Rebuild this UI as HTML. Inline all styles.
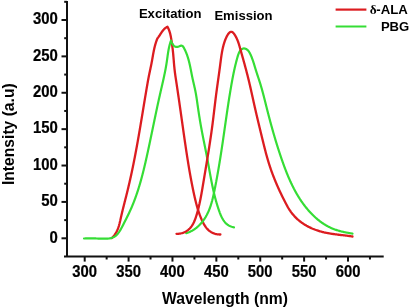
<!DOCTYPE html>
<html><head><meta charset="utf-8"><style>
html,body{margin:0;padding:0;background:#fff;width:410px;height:308px;overflow:hidden}
svg{display:block;will-change:transform}
text{font-family:"Liberation Sans",sans-serif;font-weight:bold;fill:#000}
.tl{font-size:16.3px;stroke:#111;stroke-width:0.25px}
.c{fill:none;stroke-width:2.3;stroke-linejoin:round;stroke-linecap:round}
.r{stroke:#dc1c20}.g{stroke:#35dd35;stroke-width:2.2}
</style></head><body>
<svg width="410" height="308" viewBox="0 0 410 308">
<path d="M67,1 V257.5 M64,256.5 H383.7" fill="none" stroke="#111" stroke-width="2"/>
<line x1="61.5" y1="238.30" x2="67" y2="238.30" stroke="#111" stroke-width="2"/>
<text transform="translate(57.9,242.60) scale(0.915,1)" class="tl" text-anchor="end">0</text>
<line x1="61.5" y1="201.92" x2="67" y2="201.92" stroke="#111" stroke-width="2"/>
<text transform="translate(57.9,206.22) scale(0.915,1)" class="tl" text-anchor="end">50</text>
<line x1="61.5" y1="165.53" x2="67" y2="165.53" stroke="#111" stroke-width="2"/>
<text transform="translate(57.9,169.83) scale(0.915,1)" class="tl" text-anchor="end">100</text>
<line x1="61.5" y1="129.15" x2="67" y2="129.15" stroke="#111" stroke-width="2"/>
<text transform="translate(57.9,133.45) scale(0.915,1)" class="tl" text-anchor="end">150</text>
<line x1="61.5" y1="92.77" x2="67" y2="92.77" stroke="#111" stroke-width="2"/>
<text transform="translate(57.9,97.07) scale(0.915,1)" class="tl" text-anchor="end">200</text>
<line x1="61.5" y1="56.38" x2="67" y2="56.38" stroke="#111" stroke-width="2"/>
<text transform="translate(57.9,60.68) scale(0.915,1)" class="tl" text-anchor="end">250</text>
<line x1="61.5" y1="20.00" x2="67" y2="20.00" stroke="#111" stroke-width="2"/>
<text transform="translate(57.9,24.30) scale(0.915,1)" class="tl" text-anchor="end">300</text>
<line x1="64.2" y1="220.11" x2="67" y2="220.11" stroke="#111" stroke-width="2"/>
<line x1="64.2" y1="183.72" x2="67" y2="183.72" stroke="#111" stroke-width="2"/>
<line x1="64.2" y1="147.34" x2="67" y2="147.34" stroke="#111" stroke-width="2"/>
<line x1="64.2" y1="110.96" x2="67" y2="110.96" stroke="#111" stroke-width="2"/>
<line x1="64.2" y1="74.57" x2="67" y2="74.57" stroke="#111" stroke-width="2"/>
<line x1="64.2" y1="38.19" x2="67" y2="38.19" stroke="#111" stroke-width="2"/>
<line x1="64.2" y1="1.81" x2="67" y2="1.81" stroke="#111" stroke-width="2"/>
<line x1="84.70" y1="256.5" x2="84.70" y2="261.6" stroke="#111" stroke-width="2"/>
<text transform="translate(84.70,277.0) scale(0.91,1)" class="tl" style="font-size:16.3px" text-anchor="middle">300</text>
<line x1="128.59" y1="256.5" x2="128.59" y2="261.6" stroke="#111" stroke-width="2"/>
<text transform="translate(128.59,277.0) scale(0.91,1)" class="tl" style="font-size:16.3px" text-anchor="middle">350</text>
<line x1="172.47" y1="256.5" x2="172.47" y2="261.6" stroke="#111" stroke-width="2"/>
<text transform="translate(172.47,277.0) scale(0.91,1)" class="tl" style="font-size:16.3px" text-anchor="middle">400</text>
<line x1="216.36" y1="256.5" x2="216.36" y2="261.6" stroke="#111" stroke-width="2"/>
<text transform="translate(216.36,277.0) scale(0.91,1)" class="tl" style="font-size:16.3px" text-anchor="middle">450</text>
<line x1="260.24" y1="256.5" x2="260.24" y2="261.6" stroke="#111" stroke-width="2"/>
<text transform="translate(260.24,277.0) scale(0.91,1)" class="tl" style="font-size:16.3px" text-anchor="middle">500</text>
<line x1="304.12" y1="256.5" x2="304.12" y2="261.6" stroke="#111" stroke-width="2"/>
<text transform="translate(304.12,277.0) scale(0.91,1)" class="tl" style="font-size:16.3px" text-anchor="middle">550</text>
<line x1="348.01" y1="256.5" x2="348.01" y2="261.6" stroke="#111" stroke-width="2"/>
<text transform="translate(348.01,277.0) scale(0.91,1)" class="tl" style="font-size:16.3px" text-anchor="middle">600</text>
<line x1="106.64" y1="256.5" x2="106.64" y2="259.5" stroke="#111" stroke-width="2"/>
<line x1="150.53" y1="256.5" x2="150.53" y2="259.5" stroke="#111" stroke-width="2"/>
<line x1="194.41" y1="256.5" x2="194.41" y2="259.5" stroke="#111" stroke-width="2"/>
<line x1="238.30" y1="256.5" x2="238.30" y2="259.5" stroke="#111" stroke-width="2"/>
<line x1="282.18" y1="256.5" x2="282.18" y2="259.5" stroke="#111" stroke-width="2"/>
<line x1="326.07" y1="256.5" x2="326.07" y2="259.5" stroke="#111" stroke-width="2"/>
<line x1="369.95" y1="256.5" x2="369.95" y2="259.5" stroke="#111" stroke-width="2"/>
<path d="M111.60,238.10 L112.16,237.58 L112.69,237.06 L113.20,236.52 L113.68,235.98 L114.14,235.42 L114.57,234.87 L114.99,234.30 L115.38,233.72 L115.75,233.14 L116.10,232.55 L116.44,231.96 L116.75,231.36 L117.05,230.75 L117.33,230.14 L117.60,229.52 L117.86,228.90 L118.10,228.27 L118.33,227.64 L118.54,227.00 L118.75,226.36 L118.95,225.72 L119.13,225.07 L119.31,224.41 L119.49,223.76 L119.65,223.10 L119.81,222.44 L119.97,221.77 L120.12,221.11 L120.28,220.44 L120.42,219.77 L120.57,219.10 L120.72,218.42 L120.87,217.75 L121.02,217.07 L121.17,216.40 L121.33,215.72 L121.48,215.05 L121.64,214.37 L121.80,213.69 L121.96,213.01 L122.12,212.33 L122.29,211.65 L122.45,210.97 L122.62,210.29 L122.78,209.61 L122.95,208.93 L123.12,208.24 L123.29,207.56 L123.46,206.88 L123.63,206.19 L123.81,205.51 L123.98,204.83 L124.15,204.14 L124.33,203.46 L124.50,202.77 L124.67,202.09 L124.85,201.40 L125.02,200.72 L125.20,200.03 L125.37,199.34 L125.55,198.66 L125.72,197.97 L125.89,197.29 L126.07,196.60 L126.24,195.91 L126.41,195.23 L126.58,194.54 L126.76,193.86 L126.93,193.17 L127.10,192.48 L127.26,191.80 L127.43,191.11 L127.60,190.43 L127.77,189.74 L127.93,189.06 L128.10,188.37 L128.26,187.69 L128.42,187.00 L128.58,186.32 L128.74,185.63 L128.90,184.95 L129.06,184.27 L129.22,183.58 L129.38,182.90 L129.54,182.21 L129.69,181.53 L129.85,180.85 L130.00,180.16 L130.16,179.48 L130.31,178.80 L130.46,178.11 L130.61,177.43 L130.76,176.74 L130.91,176.06 L131.06,175.38 L131.21,174.69 L131.36,174.01 L131.51,173.33 L131.65,172.65 L131.80,171.96 L131.94,171.28 L132.09,170.60 L132.23,169.91 L132.38,169.23 L132.52,168.55 L132.66,167.86 L132.80,167.18 L132.94,166.50 L133.08,165.81 L133.22,165.13 L133.36,164.45 L133.50,163.76 L133.64,163.08 L133.77,162.40 L133.91,161.71 L134.04,161.03 L134.18,160.35 L134.31,159.66 L134.45,158.98 L134.58,158.30 L134.72,157.61 L134.85,156.93 L134.98,156.24 L135.11,155.56 L135.24,154.88 L135.37,154.19 L135.50,153.51 L135.63,152.82 L135.76,152.14 L135.89,151.45 L136.02,150.77 L136.15,150.08 L136.27,149.40 L136.40,148.71 L136.53,148.03 L136.65,147.34 L136.78,146.66 L136.90,145.97 L137.03,145.29 L137.15,144.60 L137.28,143.91 L137.40,143.23 L137.52,142.54 L137.65,141.85 L137.77,141.17 L137.89,140.48 L138.01,139.79 L138.13,139.10 L138.25,138.42 L138.37,137.73 L138.50,137.04 L138.62,136.35 L138.74,135.66 L138.85,134.98 L138.97,134.29 L139.09,133.60 L139.21,132.91 L139.33,132.22 L139.45,131.53 L139.57,130.84 L139.68,130.15 L139.80,129.46 L139.92,128.77 L140.04,128.08 L140.15,127.39 L140.27,126.70 L140.39,126.01 L140.50,125.32 L140.62,124.63 L140.73,123.94 L140.85,123.25 L140.97,122.56 L141.08,121.86 L141.20,121.17 L141.31,120.48 L141.43,119.79 L141.54,119.10 L141.66,118.41 L141.77,117.72 L141.89,117.02 L142.00,116.33 L142.12,115.64 L142.23,114.95 L142.35,114.26 L142.46,113.57 L142.57,112.87 L142.69,112.18 L142.80,111.49 L142.92,110.80 L143.03,110.11 L143.15,109.41 L143.26,108.72 L143.37,108.03 L143.49,107.34 L143.60,106.65 L143.72,105.95 L143.83,105.26 L143.95,104.57 L144.06,103.88 L144.17,103.19 L144.29,102.50 L144.40,101.80 L144.52,101.11 L144.63,100.42 L144.75,99.73 L144.86,99.04 L144.98,98.35 L145.09,97.65 L145.21,96.96 L145.32,96.27 L145.44,95.58 L145.56,94.89 L145.67,94.20 L145.79,93.51 L145.90,92.81 L146.02,92.12 L146.14,91.43 L146.25,90.74 L146.37,90.05 L146.49,89.36 L146.61,88.67 L146.72,87.98 L146.84,87.29 L146.96,86.60 L147.08,85.91 L147.20,85.22 L147.32,84.53 L147.44,83.84 L147.56,83.15 L147.68,82.46 L147.80,81.77 L147.93,81.09 L148.05,80.40 L148.18,79.71 L148.31,79.02 L148.43,78.33 L148.57,77.64 L148.70,76.96 L148.83,76.27 L148.97,75.58 L149.11,74.89 L149.25,74.21 L149.39,73.52 L149.53,72.83 L149.67,72.15 L149.82,71.46 L149.97,70.78 L150.11,70.09 L150.26,69.40 L150.40,68.72 L150.55,68.03 L150.69,67.35 L150.84,66.67 L150.98,65.98 L151.12,65.30 L151.26,64.61 L151.40,63.93 L151.53,63.25 L151.66,62.56 L151.79,61.88 L151.92,61.20 L152.04,60.52 L152.16,59.83 L152.28,59.15 L152.40,58.47 L152.52,57.79 L152.64,57.11 L152.76,56.43 L152.88,55.75 L153.00,55.07 L153.12,54.39 L153.24,53.71 L153.37,53.03 L153.50,52.36 L153.63,51.68 L153.76,51.00 L153.90,50.32 L154.04,49.65 L154.19,48.97 L154.34,48.29 L154.50,47.62 L154.66,46.94 L154.83,46.27 L155.01,45.59 L155.19,44.92 L155.38,44.25 L155.58,43.57 L155.79,42.90 L156.00,42.23 L156.23,41.55 L156.46,40.88 L156.70,40.21 L156.96,39.54 L157.22,38.87 L157.50,38.20 L157.95,37.67 L158.39,37.12 L158.81,36.56 L159.21,35.99 L159.61,35.40 L159.99,34.82 L160.37,34.22 L160.75,33.63 L161.13,33.04 L161.52,32.46 L161.91,31.88 L162.31,31.31 L162.73,30.76 L163.15,30.22 L163.60,29.70 L164.07,29.20 L164.57,28.72 L165.09,28.27 L165.64,27.85 L166.22,27.47 L166.84,27.11 L167.50,26.80 L167.85,27.45 L168.18,28.11 L168.48,28.77 L168.77,29.42 L169.03,30.08 L169.27,30.75 L169.50,31.41 L169.71,32.07 L169.91,32.73 L170.09,33.40 L170.26,34.07 L170.42,34.73 L170.57,35.40 L170.71,36.07 L170.84,36.74 L170.96,37.41 L171.08,38.09 L171.20,38.76 L171.31,39.43 L171.42,40.11 L171.53,40.79 L171.63,41.46 L171.74,42.14 L171.84,42.82 L171.94,43.50 L172.03,44.18 L172.13,44.86 L172.22,45.54 L172.31,46.23 L172.40,46.91 L172.48,47.59 L172.57,48.28 L172.65,48.96 L172.73,49.65 L172.81,50.34 L172.88,51.02 L172.96,51.71 L173.03,52.40 L173.10,53.09 L173.16,53.78 L173.23,54.47 L173.29,55.16 L173.35,55.85 L173.41,56.54 L173.47,57.23 L173.53,57.93 L173.59,58.62 L173.65,59.31 L173.70,60.01 L173.76,60.70 L173.82,61.40 L173.87,62.09 L173.93,62.79 L173.99,63.48 L174.05,64.18 L174.11,64.87 L174.17,65.57 L174.24,66.27 L174.31,66.96 L174.38,67.66 L174.45,68.36 L174.52,69.06 L174.60,69.75 L174.68,70.45 L174.76,71.15 L174.85,71.85 L174.94,72.55 L175.03,73.24 L175.13,73.94 L175.22,74.64 L175.32,75.34 L175.42,76.04 L175.52,76.73 L175.62,77.43 L175.73,78.13 L175.83,78.83 L175.94,79.53 L176.04,80.22 L176.15,80.92 L176.26,81.62 L176.36,82.32 L176.47,83.01 L176.57,83.71 L176.68,84.41 L176.79,85.10 L176.89,85.80 L176.99,86.50 L177.10,87.19 L177.20,87.89 L177.31,88.58 L177.41,89.28 L177.51,89.97 L177.62,90.67 L177.72,91.36 L177.82,92.06 L177.92,92.75 L178.03,93.45 L178.13,94.14 L178.23,94.84 L178.33,95.53 L178.43,96.22 L178.53,96.92 L178.64,97.61 L178.74,98.31 L178.84,99.00 L178.94,99.69 L179.04,100.38 L179.14,101.08 L179.24,101.77 L179.34,102.46 L179.44,103.16 L179.54,103.85 L179.63,104.54 L179.73,105.23 L179.83,105.92 L179.93,106.62 L180.03,107.31 L180.13,108.00 L180.23,108.69 L180.33,109.38 L180.42,110.08 L180.52,110.77 L180.62,111.46 L180.72,112.15 L180.82,112.84 L180.91,113.53 L181.01,114.22 L181.11,114.91 L181.21,115.60 L181.31,116.29 L181.40,116.99 L181.50,117.68 L181.60,118.37 L181.70,119.06 L181.79,119.75 L181.89,120.44 L181.99,121.13 L182.09,121.82 L182.18,122.51 L182.28,123.20 L182.38,123.89 L182.48,124.58 L182.57,125.27 L182.67,125.96 L182.77,126.65 L182.87,127.34 L182.97,128.03 L183.06,128.72 L183.16,129.41 L183.26,130.10 L183.36,130.79 L183.46,131.48 L183.55,132.17 L183.65,132.86 L183.75,133.55 L183.85,134.24 L183.95,134.93 L184.05,135.62 L184.15,136.31 L184.25,137.00 L184.34,137.68 L184.44,138.37 L184.54,139.06 L184.64,139.75 L184.74,140.44 L184.84,141.13 L184.94,141.82 L185.04,142.51 L185.14,143.20 L185.24,143.89 L185.35,144.58 L185.45,145.27 L185.55,145.96 L185.65,146.65 L185.75,147.34 L185.86,148.03 L185.96,148.72 L186.06,149.41 L186.16,150.10 L186.27,150.79 L186.37,151.48 L186.48,152.17 L186.58,152.86 L186.69,153.55 L186.79,154.24 L186.90,154.93 L187.01,155.62 L187.11,156.31 L187.22,157.00 L187.33,157.69 L187.44,158.38 L187.55,159.07 L187.65,159.75 L187.76,160.44 L187.87,161.13 L187.99,161.82 L188.10,162.51 L188.21,163.20 L188.32,163.89 L188.44,164.58 L188.55,165.27 L188.66,165.96 L188.78,166.65 L188.89,167.34 L189.01,168.03 L189.13,168.72 L189.24,169.41 L189.36,170.10 L189.48,170.79 L189.60,171.48 L189.72,172.17 L189.84,172.86 L189.97,173.55 L190.09,174.23 L190.21,174.92 L190.34,175.61 L190.46,176.30 L190.59,176.99 L190.71,177.68 L190.84,178.37 L190.97,179.06 L191.10,179.75 L191.23,180.44 L191.36,181.13 L191.49,181.82 L191.62,182.51 L191.75,183.20 L191.89,183.89 L192.02,184.57 L192.16,185.26 L192.30,185.95 L192.43,186.64 L192.57,187.33 L192.71,188.02 L192.85,188.71 L193.00,189.40 L193.14,190.09 L193.28,190.78 L193.43,191.47 L193.57,192.15 L193.72,192.84 L193.87,193.53 L194.02,194.22 L194.17,194.91 L194.32,195.60 L194.48,196.29 L194.63,196.97 L194.79,197.66 L194.95,198.35 L195.11,199.03 L195.27,199.72 L195.44,200.40 L195.61,201.09 L195.78,201.77 L195.95,202.45 L196.12,203.13 L196.30,203.81 L196.48,204.49 L196.67,205.17 L196.85,205.85 L197.04,206.52 L197.24,207.20 L197.43,207.87 L197.64,208.54 L197.84,209.21 L198.05,209.88 L198.26,210.54 L198.47,211.21 L198.69,211.87 L198.92,212.53 L199.15,213.19 L199.38,213.85 L199.61,214.50 L199.86,215.15 L200.10,215.80 L200.35,216.45 L200.61,217.09 L200.87,217.74 L201.14,218.38 L201.41,219.02 L201.68,219.65 L201.97,220.28 L202.25,220.91 L202.55,221.54 L202.85,222.16 L203.16,222.77 L203.48,223.38 L203.81,223.98 L204.15,224.57 L204.50,225.15 L204.86,225.73 L205.23,226.29 L205.62,226.84 L206.02,227.38 L206.43,227.90 L206.86,228.42 L207.30,228.91 L207.76,229.39 L208.24,229.86 L208.73,230.31 L209.25,230.74 L209.78,231.15 L210.33,231.54 L210.90,231.91 L211.48,232.26 L212.09,232.59 L212.71,232.89 L213.35,233.17 L214.00,233.43 L214.66,233.66 L215.34,233.86 L216.03,234.04 L216.74,234.19 L217.45,234.32 L218.17,234.41 L218.91,234.47 L219.65,234.50 L220.40,234.50" class="c r"/>
<path d="M84.00,238.50 L84.71,238.48 L85.42,238.46 L86.13,238.45 L86.83,238.44 L87.53,238.43 L88.22,238.42 L88.92,238.41 L89.61,238.41 L90.30,238.41 L90.99,238.41 L91.68,238.41 L92.37,238.42 L93.06,238.43 L93.75,238.43 L94.44,238.45 L95.13,238.46 L95.83,238.47 L96.53,238.49 L97.23,238.51 L97.93,238.53 L98.64,238.55 L99.35,238.58 L100.06,238.60 L100.78,238.63 L101.50,238.65 L102.23,238.68 L102.95,238.70 L103.68,238.71 L104.40,238.72 L105.12,238.71 L105.84,238.70 L106.56,238.67 L107.26,238.63 L107.96,238.58 L108.66,238.50 L109.34,238.41 L110.01,238.30 L110.67,238.16 L111.32,238.00 L111.95,237.81 L112.57,237.59 L113.17,237.34 L113.75,237.07 L114.32,236.76 L114.86,236.41 L115.39,236.03 L115.90,235.62 L116.39,235.18 L116.86,234.72 L117.32,234.23 L117.77,233.72 L118.20,233.18 L118.61,232.64 L119.02,232.07 L119.41,231.49 L119.80,230.90 L120.17,230.30 L120.53,229.69 L120.89,229.08 L121.24,228.45 L121.59,227.82 L121.93,227.19 L122.26,226.55 L122.59,225.92 L122.92,225.28 L123.25,224.64 L123.58,224.00 L123.90,223.37 L124.23,222.73 L124.55,222.10 L124.87,221.47 L125.19,220.84 L125.51,220.21 L125.83,219.58 L126.15,218.95 L126.46,218.32 L126.78,217.69 L127.09,217.06 L127.40,216.44 L127.71,215.81 L128.02,215.18 L128.32,214.55 L128.62,213.92 L128.92,213.30 L129.22,212.67 L129.52,212.04 L129.81,211.41 L130.10,210.77 L130.39,210.14 L130.67,209.51 L130.96,208.87 L131.24,208.23 L131.51,207.60 L131.79,206.96 L132.06,206.32 L132.33,205.67 L132.59,205.03 L132.86,204.39 L133.12,203.74 L133.38,203.10 L133.63,202.45 L133.89,201.80 L134.14,201.15 L134.39,200.50 L134.63,199.85 L134.88,199.20 L135.12,198.54 L135.36,197.89 L135.59,197.23 L135.83,196.58 L136.06,195.92 L136.29,195.26 L136.52,194.60 L136.75,193.94 L136.97,193.28 L137.19,192.62 L137.41,191.96 L137.63,191.29 L137.85,190.63 L138.06,189.96 L138.27,189.30 L138.48,188.63 L138.69,187.96 L138.90,187.29 L139.10,186.63 L139.31,185.96 L139.51,185.29 L139.71,184.61 L139.90,183.94 L140.10,183.27 L140.30,182.60 L140.49,181.92 L140.68,181.25 L140.87,180.58 L141.06,179.90 L141.24,179.23 L141.43,178.55 L141.61,177.87 L141.79,177.19 L141.97,176.52 L142.15,175.84 L142.33,175.16 L142.51,174.48 L142.68,173.80 L142.86,173.12 L143.03,172.44 L143.20,171.76 L143.37,171.08 L143.54,170.40 L143.71,169.72 L143.88,169.03 L144.04,168.35 L144.21,167.67 L144.37,166.99 L144.54,166.30 L144.70,165.62 L144.86,164.94 L145.02,164.25 L145.18,163.57 L145.34,162.89 L145.49,162.20 L145.65,161.52 L145.81,160.83 L145.96,160.15 L146.12,159.46 L146.27,158.78 L146.42,158.10 L146.58,157.41 L146.73,156.73 L146.88,156.04 L147.03,155.36 L147.18,154.67 L147.33,153.99 L147.48,153.30 L147.63,152.62 L147.78,151.93 L147.93,151.25 L148.08,150.56 L148.22,149.88 L148.37,149.20 L148.52,148.51 L148.66,147.83 L148.81,147.15 L148.95,146.46 L149.10,145.78 L149.25,145.09 L149.39,144.41 L149.54,143.73 L149.68,143.04 L149.82,142.36 L149.97,141.68 L150.11,140.99 L150.25,140.31 L150.40,139.63 L150.54,138.94 L150.68,138.26 L150.83,137.58 L150.97,136.90 L151.11,136.21 L151.25,135.53 L151.40,134.85 L151.54,134.16 L151.68,133.48 L151.82,132.80 L151.96,132.12 L152.11,131.43 L152.25,130.75 L152.39,130.07 L152.53,129.38 L152.67,128.70 L152.81,128.02 L152.96,127.34 L153.10,126.65 L153.24,125.97 L153.38,125.29 L153.52,124.61 L153.66,123.92 L153.80,123.24 L153.95,122.56 L154.09,121.87 L154.23,121.19 L154.37,120.51 L154.52,119.83 L154.66,119.14 L154.80,118.46 L154.94,117.78 L155.09,117.09 L155.23,116.41 L155.37,115.73 L155.52,115.04 L155.66,114.36 L155.80,113.68 L155.95,112.99 L156.09,112.31 L156.24,111.63 L156.38,110.94 L156.53,110.26 L156.67,109.57 L156.82,108.89 L156.96,108.21 L157.11,107.52 L157.26,106.84 L157.40,106.15 L157.55,105.47 L157.70,104.79 L157.85,104.10 L157.99,103.42 L158.14,102.73 L158.29,102.05 L158.44,101.36 L158.59,100.68 L158.74,99.99 L158.89,99.31 L159.05,98.62 L159.20,97.94 L159.35,97.25 L159.50,96.56 L159.66,95.88 L159.81,95.19 L159.96,94.51 L160.12,93.82 L160.28,93.13 L160.43,92.45 L160.59,91.76 L160.75,91.07 L160.90,90.39 L161.06,89.70 L161.22,89.01 L161.38,88.33 L161.54,87.64 L161.69,86.95 L161.85,86.26 L162.01,85.58 L162.17,84.89 L162.33,84.20 L162.48,83.51 L162.64,82.83 L162.80,82.14 L162.95,81.45 L163.11,80.76 L163.26,80.07 L163.41,79.39 L163.57,78.70 L163.72,78.01 L163.87,77.33 L164.02,76.64 L164.16,75.95 L164.31,75.26 L164.45,74.58 L164.60,73.89 L164.74,73.20 L164.88,72.52 L165.01,71.83 L165.15,71.14 L165.28,70.46 L165.42,69.77 L165.55,69.09 L165.67,68.40 L165.80,67.72 L165.92,67.03 L166.04,66.35 L166.16,65.66 L166.28,64.98 L166.39,64.29 L166.50,63.61 L166.61,62.92 L166.71,62.24 L166.81,61.56 L166.91,60.88 L167.01,60.19 L167.10,59.51 L167.20,58.83 L167.29,58.15 L167.39,57.47 L167.48,56.79 L167.57,56.11 L167.67,55.43 L167.77,54.75 L167.87,54.07 L167.97,53.39 L168.07,52.71 L168.18,52.04 L168.30,51.36 L168.41,50.68 L168.53,50.01 L168.66,49.33 L168.79,48.66 L168.93,47.98 L169.08,47.31 L169.23,46.63 L169.39,45.96 L169.56,45.29 L169.74,44.62 L169.92,43.94 L170.12,43.27 L170.32,42.60 L170.54,41.93 L170.76,41.27 L171.00,40.60 L171.15,41.03 L171.37,41.58 L171.66,42.24 L172.01,42.95 L172.42,43.69 L172.87,44.42 L173.37,45.10 L173.90,45.71 L174.47,46.20 L175.06,46.56 L175.67,46.80 L176.29,46.92 L176.92,46.94 L177.54,46.86 L178.16,46.69 L178.77,46.45 L179.36,46.20 L179.93,45.97 L180.47,45.80 L180.98,45.70 L181.47,45.69 L181.94,45.77 L182.39,45.98 L182.82,46.31 L183.22,46.79 L183.61,47.39 L183.99,48.05 L184.34,48.73 L184.68,49.40 L185.01,50.07 L185.32,50.74 L185.62,51.41 L185.90,52.07 L186.18,52.73 L186.45,53.40 L186.70,54.06 L186.95,54.73 L187.19,55.40 L187.42,56.06 L187.64,56.73 L187.86,57.40 L188.06,58.07 L188.26,58.75 L188.45,59.42 L188.64,60.09 L188.82,60.77 L189.00,61.44 L189.17,62.12 L189.33,62.79 L189.49,63.47 L189.65,64.15 L189.80,64.82 L189.95,65.50 L190.09,66.18 L190.24,66.86 L190.37,67.54 L190.51,68.22 L190.65,68.90 L190.78,69.58 L190.92,70.27 L191.05,70.95 L191.18,71.63 L191.31,72.31 L191.45,73.00 L191.58,73.68 L191.71,74.37 L191.85,75.05 L191.99,75.73 L192.13,76.42 L192.27,77.10 L192.41,77.79 L192.56,78.47 L192.71,79.16 L192.86,79.85 L193.02,80.53 L193.17,81.22 L193.33,81.90 L193.48,82.59 L193.64,83.27 L193.80,83.96 L193.96,84.65 L194.12,85.33 L194.27,86.02 L194.43,86.71 L194.58,87.39 L194.74,88.08 L194.89,88.77 L195.03,89.46 L195.18,90.14 L195.32,90.83 L195.46,91.52 L195.59,92.20 L195.72,92.89 L195.85,93.58 L195.97,94.27 L196.09,94.96 L196.21,95.64 L196.32,96.33 L196.43,97.02 L196.54,97.71 L196.65,98.40 L196.75,99.09 L196.85,99.77 L196.95,100.46 L197.05,101.15 L197.15,101.84 L197.25,102.53 L197.35,103.22 L197.44,103.91 L197.54,104.59 L197.64,105.28 L197.74,105.97 L197.84,106.66 L197.94,107.35 L198.04,108.04 L198.14,108.73 L198.24,109.42 L198.34,110.11 L198.44,110.80 L198.55,111.49 L198.65,112.18 L198.76,112.87 L198.86,113.55 L198.97,114.24 L199.08,114.93 L199.19,115.62 L199.30,116.31 L199.41,117.00 L199.52,117.69 L199.63,118.38 L199.74,119.07 L199.85,119.76 L199.97,120.45 L200.08,121.14 L200.20,121.83 L200.32,122.52 L200.43,123.21 L200.55,123.90 L200.67,124.59 L200.79,125.28 L200.91,125.97 L201.04,126.66 L201.16,127.35 L201.29,128.04 L201.41,128.72 L201.54,129.41 L201.67,130.10 L201.79,130.79 L201.92,131.48 L202.05,132.17 L202.19,132.86 L202.32,133.55 L202.45,134.24 L202.59,134.93 L202.72,135.62 L202.86,136.31 L202.99,137.00 L203.13,137.69 L203.27,138.37 L203.40,139.06 L203.54,139.75 L203.68,140.44 L203.82,141.13 L203.96,141.82 L204.10,142.51 L204.24,143.20 L204.38,143.88 L204.51,144.57 L204.65,145.26 L204.79,145.95 L204.93,146.64 L205.07,147.33 L205.21,148.01 L205.35,148.70 L205.49,149.39 L205.63,150.08 L205.76,150.77 L205.90,151.45 L206.04,152.14 L206.17,152.83 L206.31,153.52 L206.44,154.20 L206.58,154.89 L206.71,155.58 L206.84,156.27 L206.98,156.95 L207.11,157.64 L207.24,158.33 L207.37,159.01 L207.49,159.70 L207.62,160.39 L207.75,161.07 L207.88,161.76 L208.00,162.45 L208.13,163.13 L208.25,163.82 L208.38,164.51 L208.50,165.19 L208.62,165.88 L208.75,166.56 L208.87,167.25 L208.99,167.93 L209.12,168.62 L209.24,169.30 L209.36,169.99 L209.49,170.67 L209.61,171.36 L209.73,172.04 L209.86,172.73 L209.98,173.41 L210.11,174.10 L210.23,174.78 L210.36,175.47 L210.48,176.15 L210.61,176.83 L210.74,177.52 L210.87,178.20 L211.00,178.88 L211.13,179.57 L211.26,180.25 L211.39,180.93 L211.53,181.62 L211.66,182.30 L211.80,182.98 L211.93,183.66 L212.07,184.35 L212.21,185.03 L212.35,185.71 L212.49,186.39 L212.64,187.07 L212.78,187.76 L212.93,188.44 L213.08,189.12 L213.23,189.80 L213.38,190.48 L213.54,191.16 L213.70,191.84 L213.85,192.52 L214.01,193.20 L214.18,193.88 L214.34,194.56 L214.51,195.24 L214.68,195.92 L214.85,196.60 L215.02,197.28 L215.20,197.96 L215.38,198.63 L215.56,199.31 L215.75,199.99 L215.93,200.67 L216.12,201.35 L216.32,202.02 L216.51,202.70 L216.71,203.38 L216.91,204.06 L217.12,204.73 L217.32,205.41 L217.53,206.09 L217.75,206.76 L217.97,207.44 L218.19,208.12 L218.41,208.79 L218.64,209.47 L218.87,210.14 L219.10,210.82 L219.34,211.49 L219.59,212.16 L219.83,212.83 L220.09,213.50 L220.35,214.16 L220.62,214.81 L220.90,215.46 L221.19,216.11 L221.48,216.74 L221.79,217.36 L222.11,217.98 L222.44,218.58 L222.78,219.17 L223.14,219.75 L223.50,220.32 L223.89,220.87 L224.28,221.41 L224.70,221.93 L225.13,222.43 L225.57,222.91 L226.04,223.38 L226.52,223.82 L227.02,224.25 L227.55,224.65 L228.09,225.03 L228.65,225.39 L229.24,225.72 L229.84,226.03 L230.48,226.31 L231.13,226.57 L231.81,226.80 L232.51,226.99 L233.24,227.16 L234.00,227.30" class="c g"/>
<path d="M186.20,233.10 L186.89,232.90 L187.57,232.68 L188.24,232.44 L188.90,232.19 L189.55,231.92 L190.19,231.64 L190.82,231.34 L191.45,231.03 L192.06,230.71 L192.67,230.37 L193.27,230.01 L193.85,229.65 L194.43,229.27 L195.00,228.87 L195.56,228.47 L196.11,228.05 L196.66,227.62 L197.19,227.18 L197.71,226.73 L198.23,226.26 L198.73,225.79 L199.23,225.31 L199.72,224.81 L200.20,224.31 L200.67,223.80 L201.13,223.28 L201.58,222.75 L202.02,222.21 L202.46,221.66 L202.88,221.11 L203.30,220.55 L203.71,219.98 L204.10,219.41 L204.49,218.83 L204.87,218.24 L205.24,217.65 L205.61,217.05 L205.96,216.44 L206.30,215.83 L206.64,215.22 L206.96,214.60 L207.28,213.98 L207.59,213.36 L207.89,212.73 L208.18,212.10 L208.47,211.46 L208.74,210.83 L209.01,210.18 L209.27,209.54 L209.52,208.89 L209.77,208.24 L210.01,207.59 L210.24,206.93 L210.47,206.27 L210.69,205.61 L210.90,204.95 L211.11,204.29 L211.31,203.62 L211.51,202.95 L211.70,202.28 L211.89,201.60 L212.08,200.93 L212.25,200.25 L212.43,199.58 L212.60,198.90 L212.77,198.22 L212.93,197.53 L213.09,196.85 L213.25,196.17 L213.40,195.48 L213.56,194.80 L213.71,194.11 L213.85,193.42 L214.00,192.74 L214.14,192.05 L214.29,191.36 L214.43,190.67 L214.57,189.99 L214.71,189.30 L214.85,188.61 L214.98,187.92 L215.12,187.24 L215.26,186.55 L215.39,185.86 L215.52,185.17 L215.66,184.49 L215.79,183.80 L215.92,183.11 L216.05,182.42 L216.19,181.74 L216.31,181.05 L216.44,180.36 L216.57,179.67 L216.70,178.99 L216.83,178.30 L216.95,177.61 L217.08,176.92 L217.20,176.24 L217.33,175.55 L217.45,174.86 L217.57,174.17 L217.70,173.49 L217.82,172.80 L217.94,172.11 L218.06,171.42 L218.18,170.74 L218.30,170.05 L218.42,169.36 L218.53,168.67 L218.65,167.99 L218.77,167.30 L218.88,166.61 L219.00,165.92 L219.11,165.23 L219.23,164.55 L219.34,163.86 L219.46,163.17 L219.57,162.48 L219.68,161.79 L219.79,161.11 L219.91,160.42 L220.02,159.73 L220.13,159.04 L220.24,158.35 L220.35,157.66 L220.46,156.97 L220.57,156.29 L220.67,155.60 L220.78,154.91 L220.89,154.22 L221.00,153.53 L221.10,152.84 L221.21,152.15 L221.32,151.46 L221.42,150.77 L221.53,150.08 L221.63,149.39 L221.74,148.70 L221.84,148.01 L221.95,147.32 L222.05,146.63 L222.15,145.94 L222.26,145.25 L222.36,144.56 L222.46,143.87 L222.57,143.18 L222.67,142.49 L222.77,141.79 L222.87,141.10 L222.97,140.41 L223.07,139.72 L223.18,139.03 L223.28,138.34 L223.38,137.64 L223.48,136.95 L223.58,136.26 L223.68,135.57 L223.78,134.87 L223.88,134.18 L223.98,133.49 L224.08,132.79 L224.18,132.10 L224.28,131.41 L224.38,130.71 L224.48,130.02 L224.57,129.33 L224.67,128.63 L224.77,127.94 L224.87,127.24 L224.97,126.55 L225.07,125.86 L225.17,125.16 L225.27,124.47 L225.37,123.77 L225.47,123.08 L225.57,122.38 L225.67,121.69 L225.77,121.00 L225.87,120.30 L225.97,119.61 L226.07,118.91 L226.17,118.22 L226.27,117.52 L226.37,116.83 L226.47,116.14 L226.57,115.44 L226.67,114.75 L226.77,114.06 L226.87,113.36 L226.97,112.67 L227.07,111.97 L227.18,111.28 L227.28,110.59 L227.38,109.89 L227.48,109.20 L227.59,108.51 L227.69,107.82 L227.79,107.12 L227.90,106.43 L228.00,105.74 L228.11,105.05 L228.21,104.36 L228.32,103.66 L228.42,102.97 L228.53,102.28 L228.63,101.59 L228.74,100.90 L228.85,100.21 L228.96,99.52 L229.07,98.83 L229.17,98.14 L229.28,97.45 L229.39,96.76 L229.50,96.07 L229.61,95.38 L229.73,94.70 L229.84,94.01 L229.95,93.32 L230.06,92.63 L230.18,91.95 L230.29,91.26 L230.40,90.57 L230.52,89.89 L230.64,89.20 L230.75,88.52 L230.87,87.83 L230.99,87.15 L231.10,86.46 L231.22,85.78 L231.34,85.10 L231.46,84.42 L231.58,83.73 L231.71,83.05 L231.83,82.37 L231.95,81.69 L232.08,81.01 L232.20,80.33 L232.33,79.65 L232.45,78.97 L232.58,78.29 L232.71,77.61 L232.84,76.93 L232.98,76.25 L233.11,75.57 L233.24,74.89 L233.38,74.21 L233.52,73.53 L233.66,72.84 L233.80,72.16 L233.95,71.48 L234.09,70.79 L234.24,70.11 L234.39,69.42 L234.55,68.74 L234.70,68.05 L234.86,67.36 L235.02,66.67 L235.18,65.98 L235.35,65.29 L235.52,64.60 L235.69,63.90 L235.86,63.21 L236.04,62.51 L236.22,61.81 L236.40,61.11 L236.59,60.40 L236.78,59.70 L236.97,58.99 L237.17,58.28 L237.37,57.57 L237.57,56.86 L237.78,56.14 L238.00,55.44 L238.23,54.73 L238.47,54.05 L238.73,53.38 L239.01,52.73 L239.31,52.11 L239.63,51.52 L239.99,50.97 L240.37,50.45 L240.79,49.99 L241.24,49.57 L241.73,49.21 L242.24,48.91 L242.76,48.68 L243.30,48.53 L243.85,48.45 L244.41,48.46 L244.96,48.56 L245.51,48.73 L246.06,48.98 L246.59,49.29 L247.10,49.66 L247.59,50.09 L248.06,50.57 L248.51,51.09 L248.92,51.65 L249.30,52.24 L249.66,52.85 L250.00,53.48 L250.33,54.13 L250.63,54.79 L250.93,55.45 L251.21,56.12 L251.48,56.78 L251.75,57.44 L252.00,58.11 L252.25,58.77 L252.49,59.44 L252.73,60.10 L252.95,60.77 L253.18,61.43 L253.39,62.10 L253.61,62.76 L253.82,63.43 L254.02,64.10 L254.23,64.76 L254.43,65.43 L254.63,66.10 L254.83,66.76 L255.03,67.43 L255.23,68.10 L255.43,68.77 L255.64,69.43 L255.85,70.10 L256.06,70.77 L256.27,71.44 L256.48,72.11 L256.70,72.78 L256.92,73.45 L257.14,74.12 L257.36,74.79 L257.58,75.46 L257.81,76.13 L258.03,76.80 L258.25,77.47 L258.48,78.14 L258.70,78.81 L258.92,79.48 L259.14,80.15 L259.36,80.82 L259.57,81.50 L259.79,82.17 L260.00,82.84 L260.21,83.51 L260.41,84.18 L260.62,84.86 L260.82,85.53 L261.02,86.20 L261.21,86.87 L261.41,87.55 L261.60,88.22 L261.79,88.89 L261.98,89.57 L262.17,90.24 L262.35,90.91 L262.54,91.58 L262.72,92.26 L262.90,92.93 L263.08,93.61 L263.26,94.28 L263.43,94.95 L263.61,95.63 L263.79,96.30 L263.96,96.98 L264.13,97.65 L264.30,98.32 L264.48,99.00 L264.65,99.67 L264.82,100.35 L264.99,101.02 L265.16,101.69 L265.32,102.37 L265.49,103.04 L265.66,103.72 L265.83,104.39 L266.00,105.07 L266.17,105.74 L266.34,106.42 L266.51,107.09 L266.68,107.77 L266.85,108.44 L267.02,109.11 L267.19,109.79 L267.36,110.46 L267.53,111.14 L267.71,111.81 L267.88,112.49 L268.05,113.16 L268.23,113.84 L268.40,114.51 L268.58,115.18 L268.75,115.86 L268.93,116.53 L269.11,117.21 L269.29,117.88 L269.46,118.55 L269.64,119.23 L269.82,119.90 L270.00,120.58 L270.18,121.25 L270.36,121.92 L270.55,122.60 L270.73,123.27 L270.91,123.94 L271.09,124.62 L271.28,125.29 L271.46,125.96 L271.65,126.64 L271.84,127.31 L272.02,127.98 L272.21,128.66 L272.40,129.33 L272.59,130.00 L272.78,130.67 L272.97,131.35 L273.16,132.02 L273.35,132.69 L273.55,133.36 L273.74,134.03 L273.93,134.70 L274.13,135.38 L274.33,136.05 L274.52,136.72 L274.72,137.39 L274.92,138.06 L275.12,138.73 L275.32,139.40 L275.52,140.07 L275.72,140.74 L275.92,141.41 L276.13,142.08 L276.33,142.75 L276.54,143.42 L276.74,144.09 L276.95,144.76 L277.16,145.42 L277.37,146.09 L277.58,146.76 L277.79,147.43 L278.00,148.10 L278.21,148.76 L278.43,149.43 L278.64,150.10 L278.86,150.76 L279.07,151.43 L279.29,152.10 L279.51,152.76 L279.73,153.43 L279.95,154.09 L280.17,154.76 L280.39,155.42 L280.62,156.09 L280.84,156.75 L281.07,157.42 L281.29,158.08 L281.52,158.74 L281.75,159.41 L281.98,160.07 L282.21,160.73 L282.44,161.39 L282.68,162.06 L282.91,162.72 L283.15,163.38 L283.39,164.04 L283.62,164.70 L283.86,165.36 L284.11,166.02 L284.35,166.68 L284.59,167.33 L284.84,167.99 L285.09,168.65 L285.34,169.30 L285.59,169.96 L285.84,170.61 L286.10,171.27 L286.35,171.92 L286.61,172.57 L286.87,173.22 L287.13,173.87 L287.40,174.52 L287.66,175.17 L287.93,175.81 L288.20,176.46 L288.47,177.10 L288.75,177.75 L289.02,178.39 L289.30,179.03 L289.59,179.67 L289.87,180.31 L290.16,180.94 L290.44,181.58 L290.74,182.21 L291.03,182.85 L291.33,183.48 L291.62,184.11 L291.93,184.74 L292.23,185.36 L292.54,185.99 L292.85,186.61 L293.16,187.23 L293.48,187.85 L293.79,188.47 L294.12,189.09 L294.44,189.71 L294.77,190.32 L295.10,190.93 L295.43,191.54 L295.77,192.15 L296.11,192.76 L296.45,193.36 L296.80,193.96 L297.15,194.56 L297.50,195.16 L297.86,195.76 L298.22,196.35 L298.58,196.94 L298.95,197.53 L299.32,198.12 L299.70,198.70 L300.07,199.29 L300.46,199.87 L300.84,200.45 L301.23,201.02 L301.62,201.60 L302.02,202.17 L302.42,202.74 L302.83,203.30 L303.24,203.87 L303.65,204.43 L304.07,204.99 L304.49,205.54 L304.91,206.09 L305.34,206.64 L305.78,207.19 L306.22,207.74 L306.66,208.28 L307.11,208.82 L307.56,209.36 L308.01,209.89 L308.48,210.42 L308.94,210.95 L309.41,211.47 L309.88,211.99 L310.36,212.51 L310.85,213.03 L311.33,213.54 L311.83,214.05 L312.32,214.55 L312.82,215.05 L313.33,215.54 L313.84,216.03 L314.35,216.52 L314.87,217.00 L315.39,217.48 L315.92,217.95 L316.45,218.41 L316.98,218.87 L317.52,219.33 L318.06,219.78 L318.61,220.22 L319.16,220.66 L319.71,221.09 L320.27,221.51 L320.83,221.93 L321.40,222.34 L321.97,222.75 L322.54,223.14 L323.12,223.53 L323.70,223.92 L324.29,224.29 L324.88,224.66 L325.47,225.02 L326.06,225.37 L326.66,225.72 L327.27,226.06 L327.87,226.38 L328.48,226.70 L329.09,227.01 L329.71,227.32 L330.33,227.61 L330.96,227.89 L331.58,228.17 L332.21,228.44 L332.85,228.70 L333.48,228.95 L334.12,229.20 L334.77,229.44 L335.41,229.67 L336.06,229.89 L336.71,230.11 L337.37,230.32 L338.03,230.52 L338.69,230.72 L339.35,230.91 L340.02,231.10 L340.69,231.28 L341.36,231.45 L342.04,231.62 L342.72,231.78 L343.40,231.94 L344.09,232.09 L344.77,232.24 L345.46,232.38 L346.15,232.52 L346.85,232.66 L347.55,232.79 L348.25,232.91 L348.95,233.04 L349.66,233.16 L350.36,233.27 L351.07,233.38 L351.79,233.49 L352.50,233.60" class="c g"/>
<path d="M176.50,233.80 L177.24,233.81 L177.97,233.79 L178.69,233.74 L179.40,233.66 L180.11,233.55 L180.81,233.41 L181.49,233.25 L182.17,233.06 L182.84,232.84 L183.49,232.60 L184.13,232.33 L184.76,232.04 L185.37,231.73 L185.97,231.39 L186.56,231.03 L187.13,230.65 L187.68,230.25 L188.22,229.83 L188.74,229.40 L189.24,228.94 L189.72,228.47 L190.18,227.98 L190.62,227.47 L191.05,226.95 L191.45,226.42 L191.84,225.87 L192.22,225.30 L192.58,224.73 L192.92,224.14 L193.25,223.54 L193.56,222.94 L193.87,222.32 L194.16,221.69 L194.44,221.06 L194.70,220.41 L194.96,219.76 L195.21,219.11 L195.45,218.45 L195.68,217.78 L195.91,217.11 L196.13,216.44 L196.34,215.77 L196.55,215.09 L196.75,214.41 L196.95,213.73 L197.14,213.05 L197.33,212.37 L197.52,211.69 L197.71,211.01 L197.89,210.33 L198.06,209.65 L198.24,208.97 L198.41,208.29 L198.58,207.61 L198.74,206.93 L198.90,206.25 L199.06,205.57 L199.22,204.88 L199.37,204.20 L199.53,203.52 L199.67,202.83 L199.82,202.15 L199.97,201.47 L200.11,200.78 L200.25,200.10 L200.39,199.41 L200.52,198.73 L200.66,198.05 L200.79,197.36 L200.92,196.67 L201.05,195.99 L201.18,195.30 L201.30,194.62 L201.43,193.93 L201.55,193.25 L201.67,192.56 L201.79,191.87 L201.91,191.19 L202.03,190.50 L202.15,189.81 L202.27,189.13 L202.39,188.44 L202.50,187.75 L202.62,187.06 L202.73,186.38 L202.85,185.69 L202.96,185.00 L203.08,184.31 L203.19,183.62 L203.31,182.94 L203.42,182.25 L203.54,181.56 L203.65,180.87 L203.77,180.18 L203.88,179.50 L204.00,178.81 L204.11,178.12 L204.23,177.43 L204.34,176.74 L204.46,176.05 L204.57,175.36 L204.69,174.67 L204.80,173.98 L204.92,173.30 L205.04,172.61 L205.15,171.92 L205.27,171.23 L205.38,170.54 L205.50,169.85 L205.61,169.16 L205.73,168.47 L205.84,167.78 L205.96,167.09 L206.07,166.40 L206.19,165.71 L206.30,165.02 L206.42,164.33 L206.53,163.64 L206.65,162.95 L206.76,162.26 L206.88,161.57 L206.99,160.88 L207.10,160.19 L207.22,159.50 L207.33,158.81 L207.44,158.12 L207.56,157.43 L207.67,156.74 L207.78,156.05 L207.89,155.36 L208.01,154.67 L208.12,153.98 L208.23,153.28 L208.34,152.59 L208.45,151.90 L208.56,151.21 L208.67,150.52 L208.78,149.83 L208.89,149.14 L209.00,148.45 L209.11,147.76 L209.22,147.07 L209.32,146.37 L209.43,145.68 L209.54,144.99 L209.65,144.30 L209.75,143.61 L209.86,142.92 L209.96,142.23 L210.07,141.53 L210.17,140.84 L210.28,140.15 L210.38,139.46 L210.48,138.77 L210.58,138.08 L210.69,137.38 L210.79,136.69 L210.89,136.00 L210.99,135.31 L211.09,134.62 L211.19,133.93 L211.29,133.23 L211.38,132.54 L211.48,131.85 L211.58,131.16 L211.67,130.47 L211.77,129.77 L211.86,129.08 L211.96,128.39 L212.05,127.70 L212.14,127.01 L212.24,126.31 L212.33,125.62 L212.42,124.93 L212.51,124.24 L212.60,123.55 L212.68,122.85 L212.77,122.16 L212.86,121.47 L212.95,120.78 L213.03,120.08 L213.12,119.39 L213.20,118.70 L213.29,118.01 L213.37,117.31 L213.46,116.62 L213.54,115.93 L213.62,115.24 L213.71,114.55 L213.79,113.85 L213.87,113.16 L213.96,112.47 L214.04,111.78 L214.12,111.08 L214.20,110.39 L214.28,109.70 L214.37,109.01 L214.45,108.31 L214.53,107.62 L214.61,106.93 L214.70,106.23 L214.78,105.54 L214.86,104.85 L214.95,104.16 L215.03,103.46 L215.11,102.77 L215.20,102.08 L215.28,101.38 L215.37,100.69 L215.45,100.00 L215.54,99.31 L215.62,98.61 L215.71,97.92 L215.80,97.23 L215.89,96.53 L215.97,95.84 L216.06,95.15 L216.15,94.45 L216.24,93.76 L216.33,93.07 L216.43,92.37 L216.52,91.68 L216.61,90.99 L216.71,90.29 L216.80,89.60 L216.89,88.91 L216.99,88.21 L217.08,87.52 L217.18,86.83 L217.27,86.13 L217.37,85.44 L217.47,84.74 L217.56,84.05 L217.66,83.36 L217.76,82.66 L217.85,81.97 L217.95,81.27 L218.05,80.58 L218.15,79.89 L218.24,79.19 L218.34,78.50 L218.44,77.80 L218.53,77.11 L218.63,76.42 L218.73,75.72 L218.82,75.03 L218.92,74.33 L219.02,73.64 L219.11,72.94 L219.21,72.25 L219.30,71.56 L219.40,70.86 L219.49,70.17 L219.58,69.47 L219.68,68.78 L219.77,68.08 L219.86,67.39 L219.95,66.69 L220.04,66.00 L220.13,65.30 L220.22,64.61 L220.31,63.91 L220.40,63.22 L220.49,62.52 L220.58,61.83 L220.67,61.13 L220.76,60.44 L220.85,59.75 L220.94,59.06 L221.03,58.37 L221.13,57.68 L221.22,56.99 L221.32,56.30 L221.43,55.62 L221.53,54.93 L221.64,54.25 L221.75,53.57 L221.86,52.89 L221.98,52.22 L222.10,51.54 L222.23,50.87 L222.36,50.20 L222.49,49.54 L222.63,48.87 L222.78,48.21 L222.93,47.54 L223.09,46.88 L223.26,46.21 L223.43,45.54 L223.62,44.86 L223.81,44.18 L224.02,43.50 L224.23,42.81 L224.45,42.11 L224.69,41.41 L224.94,40.70 L225.20,40.00 L225.48,39.30 L225.77,38.60 L226.07,37.91 L226.39,37.22 L226.72,36.54 L227.07,35.88 L227.44,35.23 L227.82,34.61 L228.22,34.02 L228.62,33.48 L229.04,33.00 L229.47,32.58 L229.91,32.24 L230.35,31.99 L230.80,31.83 L231.25,31.79 L231.70,31.86 L232.15,32.04 L232.60,32.31 L233.04,32.68 L233.48,33.12 L233.91,33.63 L234.33,34.19 L234.73,34.79 L235.12,35.43 L235.50,36.08 L235.86,36.73 L236.20,37.39 L236.53,38.05 L236.84,38.71 L237.13,39.37 L237.41,40.03 L237.67,40.69 L237.93,41.35 L238.17,42.01 L238.40,42.67 L238.63,43.34 L238.84,44.00 L239.05,44.66 L239.25,45.33 L239.45,45.99 L239.64,46.65 L239.83,47.32 L240.02,47.98 L240.21,48.65 L240.40,49.31 L240.58,49.98 L240.77,50.65 L240.96,51.31 L241.15,51.98 L241.33,52.65 L241.52,53.32 L241.71,53.98 L241.90,54.65 L242.09,55.32 L242.27,55.99 L242.46,56.66 L242.65,57.33 L242.84,58.00 L243.03,58.68 L243.21,59.35 L243.40,60.02 L243.59,60.69 L243.77,61.37 L243.96,62.04 L244.15,62.71 L244.33,63.39 L244.52,64.06 L244.70,64.73 L244.88,65.41 L245.07,66.08 L245.25,66.76 L245.43,67.43 L245.61,68.11 L245.80,68.79 L245.98,69.46 L246.16,70.14 L246.33,70.82 L246.51,71.49 L246.69,72.17 L246.86,72.85 L247.04,73.53 L247.21,74.21 L247.39,74.88 L247.56,75.56 L247.73,76.24 L247.90,76.92 L248.07,77.60 L248.24,78.28 L248.40,78.96 L248.57,79.64 L248.73,80.32 L248.90,81.00 L249.06,81.68 L249.22,82.36 L249.38,83.04 L249.54,83.72 L249.70,84.41 L249.86,85.09 L250.02,85.77 L250.17,86.45 L250.33,87.13 L250.49,87.81 L250.64,88.50 L250.80,89.18 L250.95,89.86 L251.10,90.54 L251.26,91.23 L251.41,91.91 L251.56,92.59 L251.71,93.27 L251.87,93.96 L252.02,94.64 L252.17,95.32 L252.32,96.01 L252.47,96.69 L252.62,97.37 L252.77,98.06 L252.92,98.74 L253.08,99.42 L253.23,100.11 L253.38,100.79 L253.53,101.47 L253.68,102.16 L253.83,102.84 L253.99,103.52 L254.14,104.21 L254.29,104.89 L254.44,105.58 L254.60,106.26 L254.75,106.94 L254.91,107.63 L255.06,108.31 L255.22,108.99 L255.37,109.68 L255.53,110.36 L255.69,111.04 L255.85,111.73 L256.00,112.41 L256.16,113.09 L256.32,113.78 L256.48,114.46 L256.64,115.14 L256.80,115.82 L256.96,116.51 L257.12,117.19 L257.28,117.87 L257.44,118.56 L257.61,119.24 L257.77,119.92 L257.93,120.60 L258.09,121.28 L258.26,121.97 L258.42,122.65 L258.58,123.33 L258.75,124.01 L258.91,124.69 L259.07,125.37 L259.24,126.05 L259.40,126.73 L259.57,127.41 L259.73,128.09 L259.89,128.77 L260.06,129.45 L260.22,130.13 L260.39,130.81 L260.55,131.49 L260.72,132.17 L260.88,132.85 L261.05,133.53 L261.21,134.21 L261.38,134.89 L261.54,135.56 L261.71,136.24 L261.87,136.92 L262.04,137.60 L262.20,138.27 L262.37,138.95 L262.53,139.63 L262.70,140.30 L262.86,140.98 L263.03,141.65 L263.19,142.33 L263.36,143.00 L263.53,143.68 L263.69,144.35 L263.86,145.03 L264.03,145.70 L264.20,146.37 L264.37,147.05 L264.54,147.72 L264.71,148.39 L264.88,149.06 L265.05,149.74 L265.23,150.41 L265.40,151.08 L265.58,151.75 L265.75,152.42 L265.93,153.09 L266.11,153.76 L266.29,154.43 L266.48,155.10 L266.66,155.76 L266.85,156.43 L267.03,157.10 L267.22,157.77 L267.41,158.43 L267.61,159.10 L267.80,159.76 L268.00,160.43 L268.20,161.09 L268.40,161.76 L268.60,162.42 L268.80,163.08 L269.01,163.75 L269.22,164.41 L269.43,165.07 L269.65,165.73 L269.86,166.39 L270.08,167.05 L270.31,167.71 L270.53,168.37 L270.76,169.03 L270.98,169.69 L271.22,170.35 L271.45,171.01 L271.68,171.66 L271.92,172.32 L272.16,172.98 L272.40,173.63 L272.65,174.29 L272.90,174.94 L273.15,175.59 L273.40,176.25 L273.65,176.90 L273.91,177.55 L274.16,178.21 L274.42,178.86 L274.69,179.51 L274.95,180.16 L275.22,180.81 L275.49,181.46 L275.76,182.11 L276.03,182.76 L276.30,183.41 L276.58,184.05 L276.86,184.70 L277.14,185.35 L277.42,185.99 L277.71,186.64 L277.99,187.29 L278.28,187.93 L278.57,188.58 L278.87,189.22 L279.16,189.86 L279.46,190.51 L279.76,191.15 L280.06,191.79 L280.36,192.43 L280.66,193.07 L280.97,193.71 L281.28,194.35 L281.59,194.99 L281.90,195.63 L282.21,196.27 L282.53,196.91 L282.84,197.55 L283.16,198.18 L283.48,198.82 L283.80,199.45 L284.12,200.08 L284.44,200.71 L284.76,201.34 L285.08,201.96 L285.40,202.59 L285.72,203.21 L286.05,203.82 L286.37,204.44 L286.70,205.05 L287.03,205.66 L287.36,206.26 L287.69,206.86 L288.04,207.46 L288.38,208.05 L288.74,208.64 L289.10,209.23 L289.47,209.81 L289.85,210.38 L290.24,210.95 L290.64,211.52 L291.04,212.08 L291.46,212.63 L291.88,213.18 L292.31,213.73 L292.75,214.27 L293.20,214.80 L293.65,215.32 L294.11,215.84 L294.58,216.36 L295.06,216.86 L295.55,217.36 L296.04,217.85 L296.54,218.34 L297.04,218.81 L297.55,219.28 L298.07,219.74 L298.59,220.20 L299.13,220.64 L299.66,221.08 L300.20,221.51 L300.75,221.93 L301.30,222.34 L301.86,222.75 L302.43,223.14 L303.00,223.53 L303.57,223.91 L304.15,224.29 L304.74,224.65 L305.33,225.01 L305.92,225.36 L306.52,225.71 L307.12,226.04 L307.73,226.37 L308.35,226.70 L308.96,227.01 L309.58,227.32 L310.21,227.62 L310.84,227.91 L311.47,228.20 L312.11,228.47 L312.75,228.75 L313.39,229.01 L314.04,229.27 L314.69,229.52 L315.34,229.77 L316.00,230.00 L316.66,230.24 L317.32,230.46 L317.99,230.68 L318.66,230.89 L319.33,231.10 L320.00,231.30 L320.68,231.49 L321.36,231.68 L322.04,231.86 L322.72,232.03 L323.40,232.20 L324.09,232.37 L324.78,232.52 L325.47,232.67 L326.16,232.82 L326.85,232.96 L327.54,233.09 L328.24,233.22 L328.93,233.35 L329.63,233.47 L330.33,233.59 L331.03,233.70 L331.73,233.81 L332.43,233.91 L333.13,234.01 L333.83,234.11 L334.53,234.21 L335.23,234.30 L335.93,234.39 L336.63,234.48 L337.33,234.57 L338.03,234.65 L338.73,234.74 L339.43,234.82 L340.13,234.90 L340.83,234.99 L341.53,235.07 L342.22,235.15 L342.92,235.23 L343.62,235.31 L344.31,235.39 L345.00,235.47 L345.69,235.56 L346.38,235.64 L347.07,235.73 L347.76,235.82 L348.44,235.91 L349.12,236.00 L349.80,236.09 L350.48,236.19 L351.16,236.29 L351.83,236.39 L352.50,236.50" class="c r"/>
<text x="138.9" y="18.2" style="font-size:13.1px">Excitation</text>
<text x="214.4" y="19.5" style="font-size:13.1px">Emission</text>
<line x1="335.6" y1="9.6" x2="366.4" y2="9.6" stroke="#dc1c20" stroke-width="2.2"/>
<line x1="335.6" y1="26.5" x2="366.4" y2="26.5" stroke="#35dd35" stroke-width="2"/>
<text x="369.8" y="13.6" style="font-size:13.3px;font-family:'Liberation Serif',serif">&#948;</text><text x="376.3" y="13.6" style="font-size:13.2px">-ALA</text>
<text x="380.9" y="30.7" style="font-size:13.1px">PBG</text>
<text x="162.1" y="303.6" style="font-size:15.7px">Wavelength (nm)</text>
<text transform="translate(13.5,134.2) rotate(-90)" text-anchor="middle" style="font-size:15.65px">Intensity (a.u)</text>
</svg>
</body></html>
